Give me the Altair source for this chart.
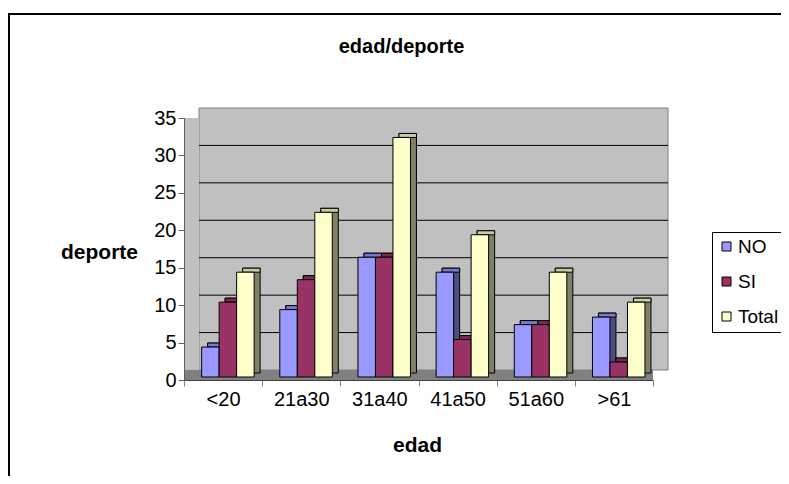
import altair as alt
import pandas as pd

categories = ["<20", "21a30", "31a40", "41a50", "51a60", ">61"]
series = ["NO", "SI", "Total"]
no_vals = [4, 9, 16, 14, 7, 8]
si_vals = [10, 13, 16, 5, 7, 2]
total_vals = [14, 22, 32, 19, 14, 10]
y_ticks = [0, 5, 10, 15, 20, 25, 30, 35]
grid_vals = [5, 10, 15, 20, 25, 30]
y_max = 35

front_colors = ["#9999FF", "#993366", "#FFFFCC"]
side_colors = ["#4D4D80", "#4D1A33", "#808066"]
top_colors = ["#7A7ACC", "#7A2952", "#CCCCA3"]

W, H = 469, 262
DX, DY = 15, -10      # depth of the back wall (px)
BW = 17.5             # bar width (px)
CX, BY = 4.8, -3      # bar placement within depth
SX, SY = 6, -4        # bar depth

FONT = "Liberation Sans"
NBSP = "\u00a0"

rows = []
for s, vals in zip(series, [no_vals, si_vals, total_vals]):
    for c, v in zip(categories, vals):
        rows.append({"cat": c, "serie": s, "value": v})
df = pd.DataFrame(rows)
wall_df = pd.DataFrame({"top": [y_max], "bot": [0]})
grid_df = pd.DataFrame({"v": grid_vals})

yscale = alt.Scale(domain=[0, y_max], nice=False)
xscale = alt.Scale(paddingInner=0, paddingOuter=0)

yaxis = alt.Axis(
    values=y_ticks, tickSize=6, tickColor="#606060", domainColor="#606060",
    labelFont=FONT, labelFontSize=20, labelColor="black", labelPadding=2,
    titleFont=FONT, titleFontSize=21, titleFontWeight="bold", titleColor="black",
    titleAngle=0, titleX=-85, titleY=134, titleAlign="center",
    titleBaseline="middle", grid=False, zindex=1
)
xaxis = alt.Axis(
    labelAngle=0, tickBand="extent", tickSize=6, tickColor="#808080",
    domainColor="#404040", labelFont=FONT, labelFontSize=20, labelColor="black",
    labelPadding=3, titleFont=FONT, titleFontSize=21, titleFontWeight="bold",
    titleColor="black", titleX=233, titleY=65, titleAlign="center",
    titleBaseline="middle", grid=False, zindex=1
)
legend = alt.Legend(
    title=None, orient="none", legendX=528, legendY=114,
    strokeColor="black", fillColor="white", padding=5,
    symbolType="square", symbolSize=81, symbolStrokeColor="black",
    symbolStrokeWidth=1, labelFont=FONT, labelFontSize=19,
    labelColor="black", rowPadding=15, labelOffset=2,
    labelExpr="datum.label + '" + NBSP * 8 + "'"
)


def Y(field):
    return alt.Y(field, scale=yscale, axis=yaxis, title="deporte", stack=None)


# outer frame (stroke only)
frame = alt.Chart(wall_df).mark_rect(fillOpacity=0, stroke="black", strokeWidth=2).encode(
    x=alt.value(-175), x2=alt.value(W + 200), y=alt.value(-104), y2=alt.value(H + 200)
)

# back wall
back = alt.Chart(wall_df).mark_rect(
    fill="#C0C0C0", stroke="#808080", strokeWidth=1,
    xOffset=DX, x2Offset=DX, yOffset=DY, y2Offset=DY
).encode(x=alt.value(0), x2=alt.value(W), y=Y("top:Q"), y2=alt.Y2("bot:Q"))

grid = alt.Chart(grid_df).mark_rule(
    color="black", strokeWidth=1, xOffset=DX, x2Offset=DX, yOffset=DY
).encode(x=alt.value(0), x2=alt.value(W), y=Y("v:Q"))

side_wall = alt.Chart(wall_df).mark_rect(fill="#C0C0C0").encode(
    x=alt.value(0), x2=alt.value(DX), y=Y("top:Q"), y2=alt.Y2("bot:Q")
)

floor = alt.Chart(wall_df).mark_rect(fill="#808080", yOffset=DY).encode(
    x=alt.value(0), x2=alt.value(W), y=Y("bot:Q"), y2=alt.Y2("bot:Q")
)

xenc = alt.X("cat:N", sort=categories, scale=xscale, title="edad", axis=xaxis)

sides, tops, fronts = [], [], []
for k, s in enumerate(series):
    off = CX + (k - 1) * BW
    base = alt.Chart(df).transform_filter(alt.datum.serie == s).transform_calculate(zero="0")
    sides.append(base.mark_bar(
        fill=side_colors[k], stroke="black", strokeWidth=1, width=BW,
        xOffset=off + SX, yOffset=BY + SY, y2Offset=BY + SY
    ).encode(x=xenc, y=Y("value:Q"), y2=alt.Y2("zero:Q")))
    tops.append(base.mark_bar(
        fill=top_colors[k], stroke="black", strokeWidth=1, width=BW,
        xOffset=off + SX, yOffset=BY + SY, y2Offset=BY
    ).encode(x=xenc, y=Y("value:Q"), y2=alt.Y2("value:Q")))
    fronts.append(base.mark_bar(
        stroke="black", strokeWidth=1, width=BW,
        xOffset=off, yOffset=BY, y2Offset=BY
    ).encode(
        x=xenc, y=Y("value:Q"), y2=alt.Y2("zero:Q"),
        color=alt.Color("serie:N", scale=alt.Scale(domain=series, range=front_colors), legend=legend),
    ))

chart = alt.layer(
    frame, back, grid, side_wall, floor, *sides, *tops, *fronts
).properties(
    width=W, height=H,
    title=alt.TitleParams(
        "edad/deporte", font=FONT, fontSize=20, fontWeight="bold", color="black",
        anchor="middle", dx=-17, offset=-44
    ),
    autosize=alt.AutoSizeParams(type="none"),
    padding={"left": 176, "top": 110, "right": 128, "bottom": 96},
).configure_view(stroke=None)

chart.save("out.html", embed_options={"renderer": "svg", "actions": False})
